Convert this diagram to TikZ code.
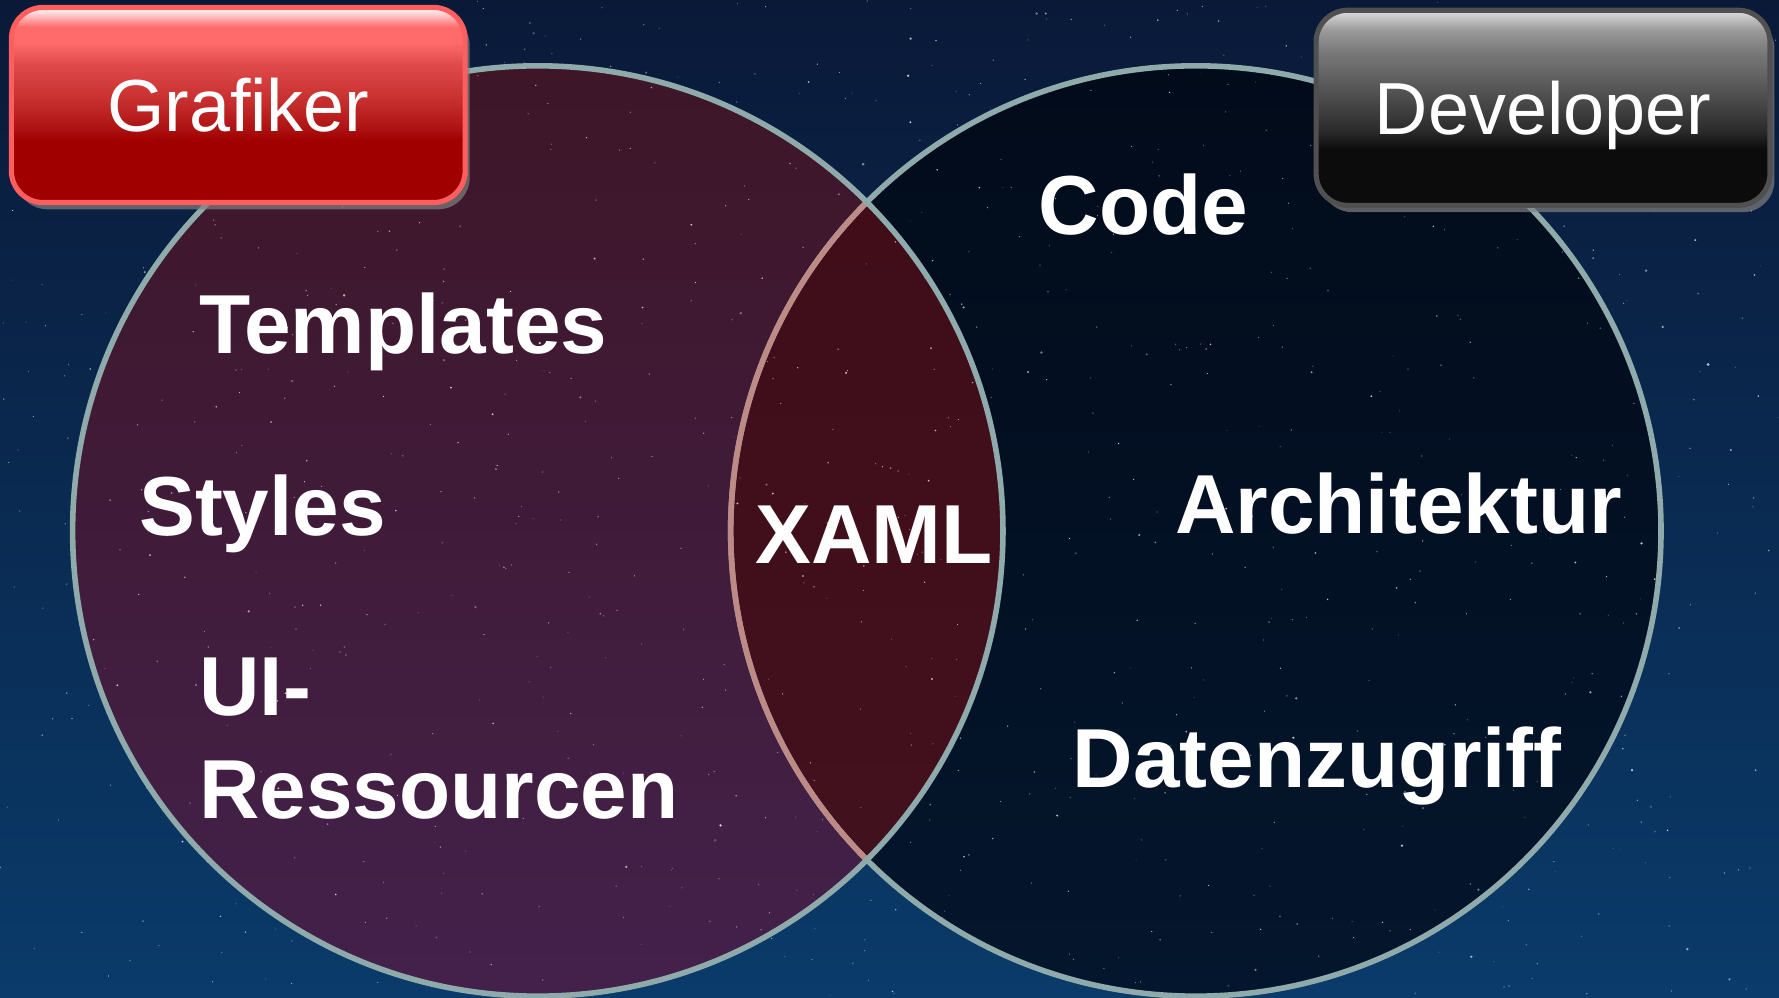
\documentclass[tikz,border=0pt]{standalone}
\usepackage{fontspec}
\setmainfont{Liberation Sans}
\usepackage{tikz}
\usetikzlibrary{shapes.geometric, shadows, calc}

\definecolor{bgtop}{HTML}{0A1938}
\definecolor{bgbottom}{HTML}{0A3B6A}
\definecolor{rim}{HTML}{8FAAAA}
\definecolor{lensrim}{HTML}{BE8A86}
\definecolor{gktop}{HTML}{3E1628}
\definecolor{gkbottom}{HTML}{43214B}
\definecolor{devtop}{HTML}{020B1A}
\definecolor{devbottom}{HTML}{04162D}
\definecolor{lenstop}{HTML}{3F0C18}
\definecolor{lensbottom}{HTML}{43121F}
\definecolor{gkdark}{HTML}{A00000}
\definecolor{gkdeep}{HTML}{B01515}
\definecolor{gkmid}{HTML}{C83030}
\definecolor{gkred}{HTML}{E04A4A}
\definecolor{gklight}{HTML}{FF6B6B}
\definecolor{gkpale}{HTML}{FFE4E4}
\definecolor{gkrim}{HTML}{FF5E5E}
\definecolor{devdark}{HTML}{0C0C0C}
\definecolor{devdeep}{HTML}{2A2A2A}
\definecolor{devmid}{HTML}{5A5A5A}
\definecolor{devgrey}{HTML}{7A7A7A}
\definecolor{devlight}{HTML}{9A9A9A}
\definecolor{devpale}{HTML}{E0E0E0}
\definecolor{devrim}{HTML}{505050}

\pgfdeclareverticalshading{grafikershade}{100bp}{color(0bp)=(gkdark); color(41bp)=(gkdark); color(44.5bp)=(gkdeep); color(51.5bp)=(gkmid); color(60.5bp)=(gkred); color(66bp)=(gklight); color(70bp)=(gklight); color(74bp)=(gkpale); color(100bp)=(gkpale)}
\pgfdeclareverticalshading{developershade}{100bp}{color(0bp)=(devdark); color(39.5bp)=(devdark); color(44bp)=(devdeep); color(56bp)=(devmid); color(64.5bp)=(devgrey); color(70bp)=(devlight); color(75bp)=(devpale); color(100bp)=(devpale)}

\begin{document}
\begin{tikzpicture}

\tikzstyle{venn} = [circle, minimum size=8.2cm, inner sep=0pt, shade]
\tikzstyle{vennrim} = [draw=rim, line width=1.4pt]
\tikzstyle{topic} = [font=\fontsize{21}{25}\selectfont\bfseries, text=white, inner sep=0pt, anchor=base west]
\tikzstyle{rolebox} = [rectangle, rounded corners=.28cm, minimum width=4cm, minimum height=1.72cm, line width=.045cm, text=white, font=\fontsize{18.5}{22}\selectfont, text height=.47cm, text depth=0cm, drop shadow={opacity=.7, shadow xshift=.04cm, shadow yshift=-.06cm}]

\useasboundingbox (0,0) rectangle (15.68,8.79);
\shade[top color=bgtop, bottom color=bgbottom] (0,0) rectangle (15.68,8.79);

\node (dev) [venn, top color=devtop, bottom color=devbottom] at (10.54,4.11) {};
\node (gk) [venn, top color=gktop, bottom color=gkbottom] at (4.74,4.11) {};
\begin{scope}
\clip (gk.center) circle (4.1);
\shade[top color=lenstop, bottom color=lensbottom] (dev.center) circle (4.1);
\end{scope}

% stars
\pgfmathsetseed{7}
\foreach \i in {1,...,900}{
  \pgfmathsetmacro{\sx}{rnd*15.68}
  \pgfmathsetmacro{\sy}{rnd*8.79}
  \pgfmathsetmacro{\sr}{0.005+0.012*rnd*rnd*rnd}
  \pgfmathsetmacro{\so}{0.2+0.6*rnd}
  \fill[white, opacity=\so] (\sx,\sy) circle (\sr);
}

\draw [vennrim] (dev.center) circle (4.1);
\begin{scope}
\clip (gk.center) circle (4.1);
\draw [vennrim, draw=lensrim] (dev.center) circle (4.1);
\end{scope}
\draw [vennrim] (gk.center) circle (4.1);

\node (tpl) [topic] at (1.75,5.67) {Templates};
\node (sty) [topic] at (1.22,4.07) {Styles};
\node (ui) [topic] at (1.75,2.48) {UI-};
\node (res) [topic] at (1.75,1.58) {Ressourcen};
\node (xaml) [topic] at (6.65,3.82) {XAML};
\node (code) [topic] at (9.15,6.72) {Code};
\node (arch) [topic] at (10.35,4.09) {Architektur};
\node (data) [topic] at (9.45,1.85) {Datenzugriff};

\node (grafiker) [rolebox, shading=grafikershade, draw=gkrim] at (2.10,7.865) {Grafiker};
\node (developer) [rolebox, shading=developershade, draw=devrim] at (13.60,7.84) {Developer};

\end{tikzpicture}
\end{document}
